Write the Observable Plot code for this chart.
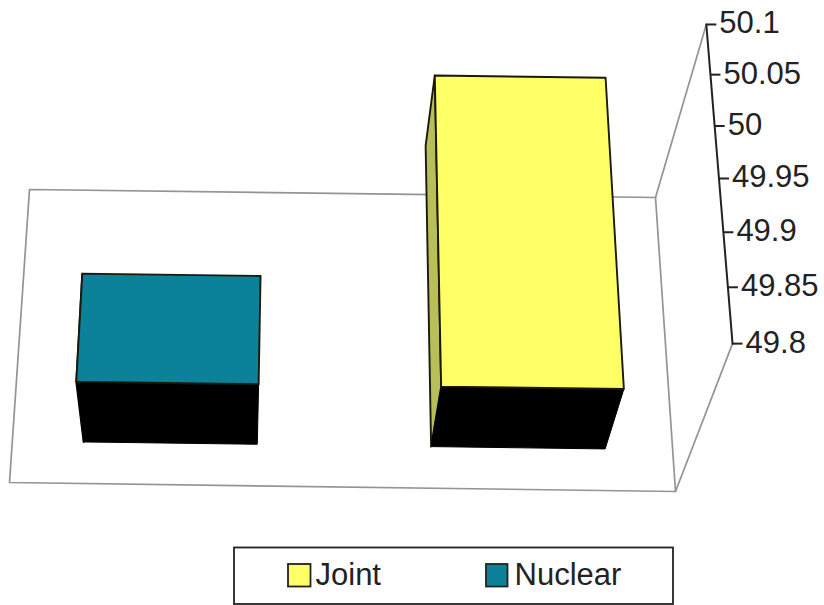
<!DOCTYPE html>
<html>
<head>
<meta charset="utf-8">
<script src="https://cdn.jsdelivr.net/npm/d3@7"></script>
<script src="https://cdn.jsdelivr.net/npm/@observablehq/plot@0.6"></script>
<style>
  html, body { margin: 0; padding: 0; background: #fff; }
  svg { display: block; }
</style>
</head>
<body>
<div id="chart"></div>
<script>
// Series, one bar per category
const categories = ["Nuclear", "Joint"];
const values = [49.9, 50.1];
const topColors = ["#0b8299", "#ffff66"];
const sideColors = ["#0a5f70", "#b9bf58"];

// Value axis
const axisTicks = [49.8, 49.85, 49.9, 49.95, 50, 50.05, 50.1];
const tickLabels = ["49.8", "49.85", "49.9", "49.95", "50", "50.05", "50.1"];

// Legend order
const legendNames = ["Joint", "Nuclear"];
const legendColors = ["#ffff66", "#0b8299"];

// Bar footprint along the category and depth axes, as fractions of the box
const barCenters = [0.245, 0.749];
const barHalfWidth = 0.126;
const barDepth = [0.305, 0.71];

// Perspective camera: category c, value height h and depth d (all 0..1) to screen pixels
const valueMin = 49.8, valueMax = 50.1;
const height01 = (v) => (v - valueMin) / (valueMax - valueMin);
function project(c, h, d) {
  const w = -0.001664 * c + 0.06384 * h - 0.1133 * d + 1;
  return {
    x: (664.877 * c + 21.851 * h - 26 * d + 9) / w,
    y: (8.183 * c - 280.934 * h - 186.5 * d + 482) / w
  };
}

// Closed outline through a list of box coordinates
const path = (corners) => [...corners, corners[0]].map(([c, h, d]) => project(c, h, d));
const face = (corners, fill, stroke = "#1a1a0a", strokeWidth = 1.9) =>
  Plot.line(path(corners), {x: "x", y: "y", fill, stroke, strokeWidth, strokeLinejoin: "round"});
const edge = (a, b) =>
  Plot.line([project(...a), project(...b)], {x: "x", y: "y", stroke: "#949494", strokeWidth: 1.7});

// Each bar: far side, underside, then the near face on top
const barMarks = categories.flatMap((name, i) => {
  const c0 = barCenters[i] - barHalfWidth, c1 = barCenters[i] + barHalfWidth;
  const [d0, d1] = barDepth;
  const h = height01(values[i]);
  return [
    face([[c0, 0, d0], [c0, h, d0], [c0, h, d1], [c0, 0, d1]], sideColors[i]),
    face([[c0, 0, d0], [c1, 0, d0], [c1, 0, d1], [c0, 0, d1]], "#000", "#000", 1),
    face([[c0, 0, d1], [c1, 0, d1], [c1, h, d1], [c0, h, d1]], topColors[i])
  ];
});

// Value axis runs up the near right edge of the box
const axisPoints = axisTicks.map((v, i) => ({...project(1, height01(v), 1), label: tickLabels[i]}));

// Legend layout
const legendBox = {x1: 234, x2: 673, y1: 547.5, y2: 604};
const legendItems = legendNames.map((name, i) => ({
  name,
  fill: legendColors[i],
  x1: [288, 486][i],
  x2: [310.5, 507.5][i],
  y1: 564,
  y2: 586.5,
  tx: [315, 514][i],
  ty: 575
}));

const chart = Plot.plot({
  width: 824,
  height: 605,
  margin: 0,
  style: {background: "#fff"},
  x: {domain: [0, 824], range: [0, 824], axis: null},
  y: {domain: [0, 605], range: [0, 605], axis: null},
  marks: [
    // Back wall and the edges joining it to the axis
    Plot.line(path([[0, 0, 0], [1, 0, 0], [1, 1, 0], [0, 1, 0]]), {
      x: "x", y: "y", stroke: "#949494", strokeWidth: 1.7
    }),
    edge([1, 0, 0], [1, 0, 1]),
    edge([1, 1, 0], [1, 1, 1]),
    ...barMarks,
    // Axis line, ticks and labels
    Plot.line(axisPoints, {x: "x", y: "y", stroke: "#222", strokeWidth: 2}),
    Plot.link(axisPoints, {
      x1: "x", y1: "y", x2: (d) => d.x + 10, y2: "y", stroke: "#222", strokeWidth: 2
    }),
    Plot.text(axisPoints, {
      x: "x", y: "y", text: "label", dx: 13, dy: -1, textAnchor: "start", lineAnchor: "middle",
      fontSize: 31, fontFamily: "Liberation Sans", fill: "#222"
    }),
    // Legend
    Plot.rect([legendBox], {
      x1: "x1", x2: "x2", y1: "y1", y2: "y2", fill: "#fff", stroke: "#222", strokeWidth: 1.8
    }),
    Plot.rect(legendItems, {
      x1: "x1", x2: "x2", y1: "y1", y2: "y2", fill: "fill", stroke: "#222", strokeWidth: 1.8
    }),
    Plot.text(legendItems, {
      x: "tx", y: "ty", text: "name", textAnchor: "start", lineAnchor: "middle",
      fontSize: 31, fontFamily: "Liberation Sans", fill: "#222"
    })
  ]
});

document.getElementById("chart").append(chart);
</script>
</body>
</html>
